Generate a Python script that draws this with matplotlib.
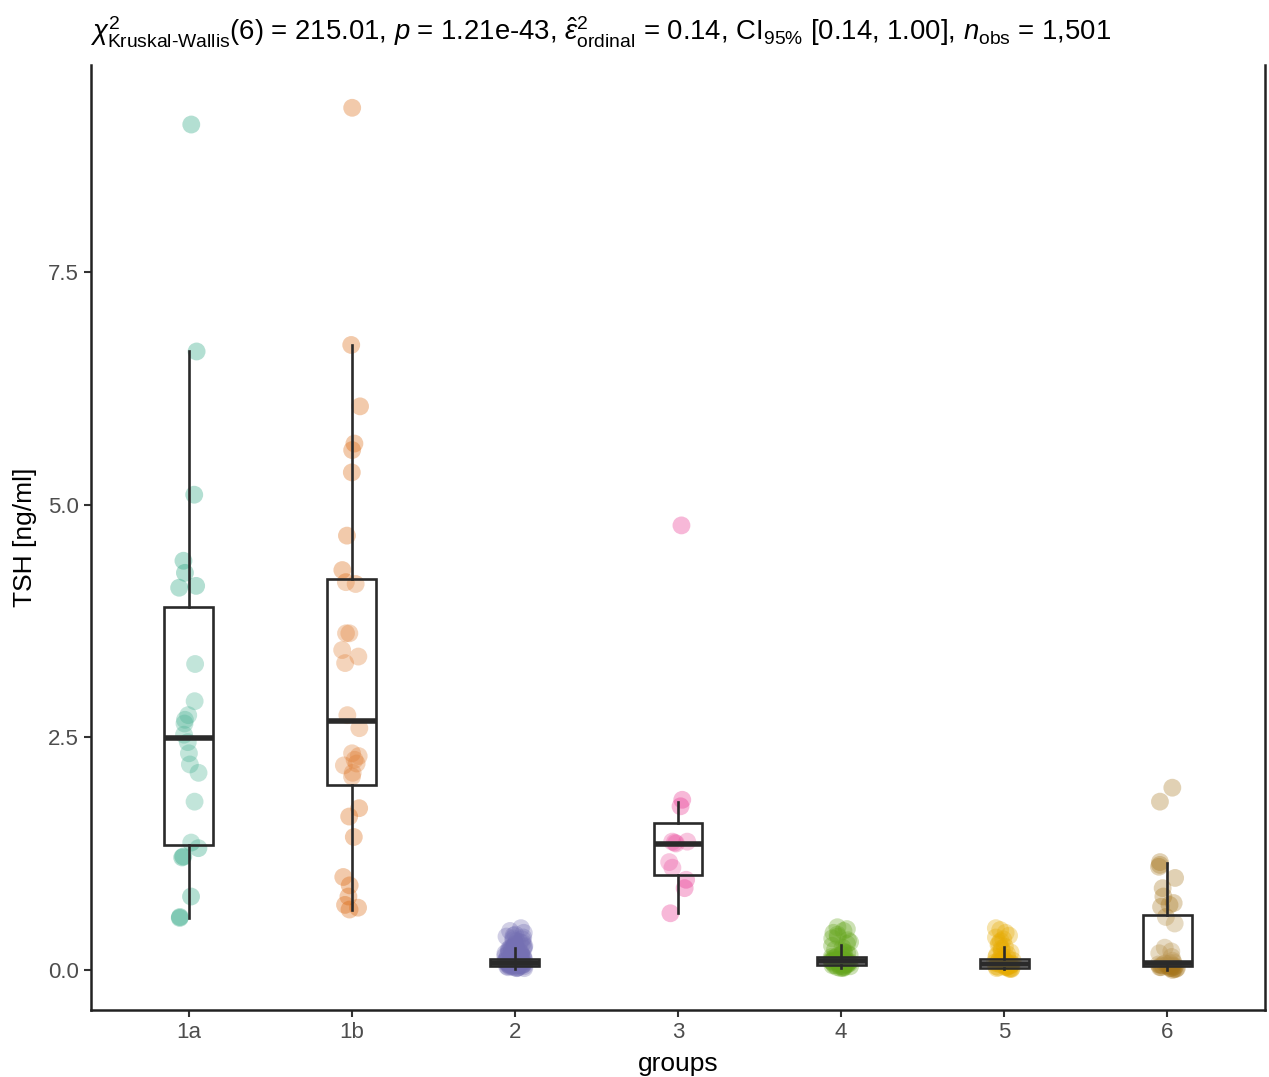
import matplotlib
matplotlib.use("Agg")
import matplotlib.pyplot as plt
import numpy as np

plt.rcParams['font.family'] = ['Liberation Sans', 'DejaVu Sans']
plt.rcParams['mathtext.fontset'] = 'custom'
plt.rcParams['mathtext.rm'] = 'Liberation Sans'
plt.rcParams['mathtext.it'] = 'Liberation Sans:italic'
plt.rcParams['mathtext.bf'] = 'Liberation Sans:bold'

# ---------------- data ----------------
groups = ["1a", "1b", "2", "3", "4", "5", "6"]
colors = ["#1B9E77", "#D95F02", "#7570B3", "#E7298A", "#66A61E", "#E6AB02", "#A6761D"]

tsh_1a = [9.09, 6.65, 5.11, 4.40, 4.27, 4.13, 4.11, 3.29, 2.89, 2.74, 2.69, 2.65,
          2.53, 2.45, 2.33, 2.21, 2.12, 1.81, 1.37, 1.31, 1.22, 1.21, 0.79, 0.57, 0.56]
tsh_1b = [9.27, 6.72, 6.06, 5.66, 5.59, 5.35, 4.67, 4.30, 4.17, 4.15, 3.62, 3.62,
          3.44, 3.37, 3.30, 2.74, 2.60, 2.33, 2.30, 2.26, 2.22, 2.20, 2.12, 2.08,
          1.74, 1.65, 1.43, 1.00, 0.91, 0.79, 0.70, 0.67, 0.65]
tsh_2 = [0.02, 0.02, 0.02, 0.03, 0.03, 0.03, 0.03, 0.04, 0.04, 0.04, 0.04, 0.05,
         0.05, 0.05, 0.05, 0.05, 0.06, 0.06, 0.06, 0.06, 0.06, 0.07, 0.07, 0.07,
         0.07, 0.07, 0.08, 0.08, 0.08, 0.08, 0.08, 0.08, 0.09, 0.09, 0.09, 0.09,
         0.09, 0.10, 0.10, 0.10, 0.10, 0.10, 0.11, 0.11, 0.11, 0.11, 0.12, 0.12,
         0.12, 0.12, 0.13, 0.13, 0.13, 0.14, 0.14, 0.14, 0.15, 0.15, 0.16, 0.16,
         0.17, 0.17, 0.18, 0.18, 0.19, 0.19, 0.20, 0.20, 0.21, 0.21, 0.22, 0.22,
         0.23, 0.23, 0.24, 0.24, 0.25, 0.25, 0.26, 0.27, 0.28, 0.29, 0.30, 0.31,
         0.32, 0.33, 0.34, 0.35, 0.36, 0.37, 0.38, 0.40, 0.42, 0.45]
tsh_3 = [4.78, 1.83, 1.76, 1.38, 1.37, 1.36, 1.38, 1.16, 1.10, 0.97, 0.88, 0.61]
tsh_4 = [0.02, 0.02, 0.03, 0.03, 0.03, 0.04, 0.04, 0.04, 0.05, 0.05, 0.05, 0.06,
         0.06, 0.06, 0.07, 0.07, 0.07, 0.08, 0.08, 0.08, 0.09, 0.09, 0.09, 0.10,
         0.10, 0.10, 0.11, 0.11, 0.12, 0.12, 0.13, 0.13, 0.14, 0.15, 0.16, 0.17,
         0.18, 0.19, 0.20, 0.22, 0.24, 0.26, 0.28, 0.30, 0.32, 0.34, 0.36, 0.38,
         0.40, 0.42, 0.44, 0.46]
tsh_5 = [0.01, 0.01, 0.02, 0.02, 0.02, 0.03, 0.03, 0.03, 0.04, 0.04, 0.04, 0.05,
         0.05, 0.05, 0.06, 0.06, 0.06, 0.07, 0.07, 0.08, 0.08, 0.09, 0.09, 0.10,
         0.10, 0.11, 0.12, 0.13, 0.14, 0.15, 0.16, 0.17, 0.19, 0.21, 0.23, 0.25,
         0.27, 0.29, 0.31, 0.33, 0.35, 0.37, 0.40, 0.43, 0.45]
tsh_6 = [1.96, 1.81, 1.16, 1.13, 1.11, 0.99, 0.88, 0.79, 0.72, 0.70, 0.68, 0.57,
         0.50, 0.24, 0.20, 0.18, 0.14, 0.10, 0.08, 0.07, 0.07, 0.06, 0.06, 0.05,
         0.05, 0.05, 0.04, 0.04, 0.04, 0.03, 0.03, 0.03, 0.02, 0.02, 0.02, 0.01,
         0.01, 0.00]
values = [tsh_1a, tsh_1b, tsh_2, tsh_3, tsh_4, tsh_5, tsh_6]

# box statistics
box_q1 = [1.34, 1.99, 0.04, 1.02, 0.05, 0.02, 0.04]
box_med = [2.49, 2.68, 0.08, 1.36, 0.10, 0.06, 0.08]
box_q3 = [3.90, 4.20, 0.12, 1.58, 0.14, 0.12, 0.59]
box_lo = [0.56, 0.65, 0.01, 0.61, 0.02, 0.01, 0.00]
box_hi = [6.65, 6.72, 0.24, 1.81, 0.27, 0.25, 1.15]

title = (r"$\chi^2_{\mathrm{Kruskal\text{-}Wallis}}$(6) = 215.01, $p$ = 1.21e-43, "
         r"$\hat{\varepsilon}^2_{\mathrm{ordinal}}$ = 0.14, CI$_{95\%}$ [0.14, 1.00], "
         r"$n_{\mathrm{obs}}$ = 1,501")
xlabel = "groups"
ylabel = "TSH [ng/ml]"
yticks = [0.0, 2.5, 5.0, 7.5]

# ---------------- plot ----------------
fig = plt.figure(figsize=(12.69, 10.77), dpi=100)
ax = fig.add_axes([91/1269, 67/1077, (1265-91)/1269, (1010-65)/1077])

rng = np.random.default_rng(7)
positions = np.arange(1, len(groups) + 1)
for pos, vals, col in zip(positions, values, colors):
    jit = rng.uniform(-0.06, 0.06, size=len(vals))
    ax.scatter(pos + jit, vals, s=165, color=col, alpha=0.33, edgecolors='none', zorder=2)

stats = []
for i in range(len(groups)):
    stats.append(dict(med=box_med[i], q1=box_q1[i], q3=box_q3[i],
                      whislo=box_lo[i], whishi=box_hi[i], fliers=[]))
ax.bxp(stats, positions=positions, widths=0.3, showfliers=False, showcaps=False,
       patch_artist=True,
       boxprops=dict(facecolor=(1, 1, 1, 0.2), edgecolor='#2a2a2a', linewidth=1.9),
       whiskerprops=dict(color='#2a2a2a', linewidth=1.9),
       medianprops=dict(color='#2a2a2a', linewidth=4.0, solid_capstyle='butt'),
       zorder=3)

ax.set_xlim(0.4, 7.6)
ax.set_ylim(-0.43, 9.73)
ax.set_xticks(positions)
ax.set_xticklabels(groups)
ax.set_yticks(yticks)
ax.set_yticklabels([f"{t:.1f}" for t in yticks])
ax.tick_params(axis='both', labelsize=16, labelcolor='#4D4D4D', color='#333333',
               length=5, width=1.5, pad=4)
ax.set_xlabel(xlabel, fontsize=19, labelpad=6)
ax.set_ylabel(ylabel, fontsize=19, labelpad=8)
for s in ['left', 'bottom', 'right']:
    ax.spines[s].set_linewidth(1.8)
    ax.spines[s].set_color('#222222')
ax.spines['top'].set_visible(False)

fig.text(90/1269, 1 - 32/1077, title, fontsize=19.8, ha='left', va='center')

fig.savefig("out.png", dpi=100)
